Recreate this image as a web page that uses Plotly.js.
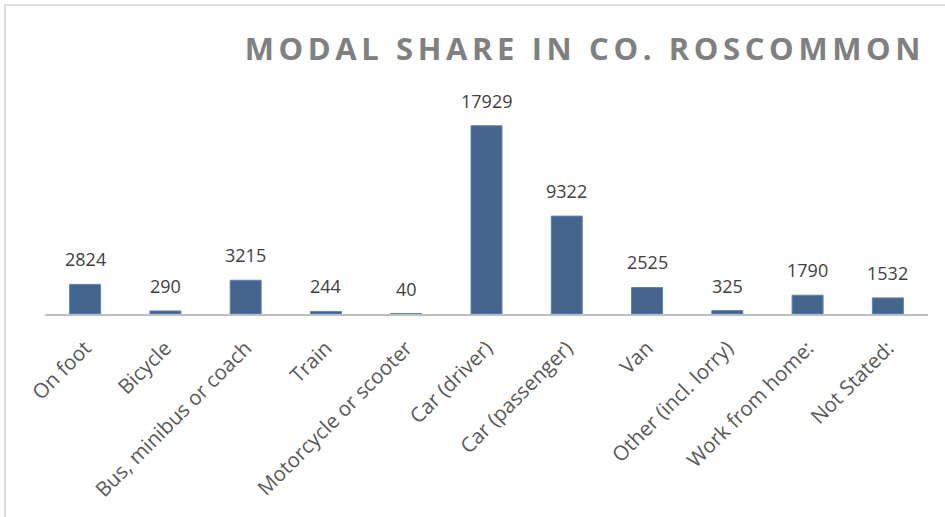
<!DOCTYPE html>
<html>
<head>
<meta charset="utf-8">
<script src="https://cdn.plot.ly/plotly-3.0.1.min.js"></script>
<style>
  html, body { margin: 0; padding: 0; background: #fff; }
  #wrap { position: relative; width: 945px; height: 517px; }
  #chart { width: 945px; height: 517px; }
  #frame { position: absolute; left: 4px; top: 4px; right: 0; bottom: 0;
           border-left: 2px solid #dedede; border-top: 2px solid #dedede; pointer-events: none; }
  .gtitle { letter-spacing: 4.6px; }
</style>
</head>
<body>
<div id="wrap"><div id="chart"></div><div id="frame"></div></div>
<script>
const categories = ["On foot", "Bicycle", "Bus, minibus or coach", "Train", "Motorcycle or scooter",
  "Car (driver)", "Car (passenger)", "Van", "Other (incl. lorry)", "Work from home:", "Not Stated:"];
const values = [2824, 290, 3215, 244, 40, 17929, 9322, 2525, 325, 1790, 1532];
const chartTitle = "MODAL SHARE IN CO. ROSCOMMON";

const trace = {
  type: "bar",
  x: categories,
  y: values,
  marker: { color: "#44648b", line: { color: "#5a86b6", width: 1 } },
  hoverinfo: "x+y"
};

const annotations = categories.map((c, i) => ({
  x: c, y: values[i], xref: "x", yref: "y",
  text: String(values[i]), showarrow: false,
  yanchor: "middle", yshift: 25,
  font: { family: "Open Sans", size: 18, color: "#404040" }
}));

const layout = {
  width: 945, height: 517,
  margin: { l: 45, r: 17, t: 104, b: 203 },
  paper_bgcolor: "#ffffff", plot_bgcolor: "#ffffff",
  showlegend: false,
  bargap: 0.614,
  title: {
    text: "<b>" + chartTitle + "</b>",
    xref: "container", yref: "container",
    x: 0.979, xanchor: "right", y: 0.905, yanchor: "middle",
    font: { family: "Open Sans", size: 31, color: "#808080" }
  },
  xaxis: {
    type: "category",
    tickangle: -45,
    tickfont: { family: "Open Sans", size: 20.5, color: "#595959" },
    ticklabelstandoff: 12,
    showline: true, linecolor: "#bfbfbf", linewidth: 2,
    ticks: "", showgrid: false, zeroline: false
  },
  yaxis: {
    range: [0, 20000], visible: false, showgrid: false, zeroline: false
  },
  annotations: annotations
};

Plotly.newPlot("chart", [trace], layout, { displayModeBar: false, staticPlot: true });
</script>
</body>
</html>
